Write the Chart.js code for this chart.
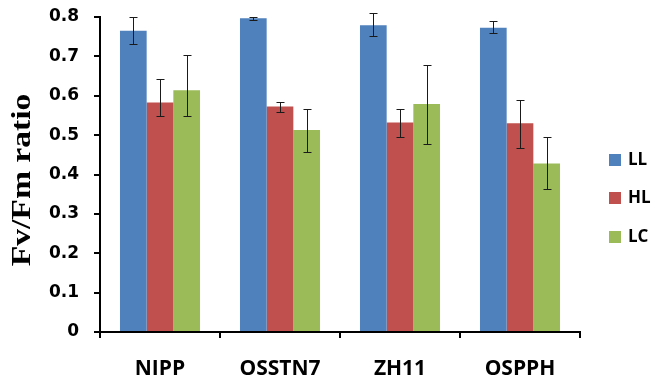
<!DOCTYPE html>
<html>
<head>
<meta charset="utf-8">
<script src="https://cdn.jsdelivr.net/npm/chart.js@4/dist/chart.umd.min.js"></script>
<style>
  html, body { margin: 0; padding: 0; background: #fff; }
  #wrap { width: 654px; height: 382px; }
</style>
</head>
<body>
<div id="wrap"><canvas id="mycanvas" width="654" height="382"></canvas></div>
<script>
var categories = ["NIPP", "OSSTN7", "ZH11", "OSPPH"];
var seriesNames = ["LL", "HL", "LC"];
var seriesColors = ["#4F81BD", "#C0504D", "#9BBB59"];

var LL = [0.765, 0.797, 0.779, 0.773];
var HL = [0.583, 0.573, 0.532, 0.530];
var LC = [0.614, 0.513, 0.579, 0.428];

// error bars (up / down from the bar top)
var LLup = [0.035, 0.004, 0.030, 0.018];
var LLdown = [0.034, 0.004, 0.028, 0.013];
var HLup = [0.059, 0.010, 0.034, 0.059];
var HLdown = [0.035, 0.013, 0.036, 0.062];
var LCup = [0.089, 0.054, 0.099, 0.068];
var LCdown = [0.066, 0.057, 0.102, 0.066];

var yTicks = [0, 0.1, 0.2, 0.3, 0.4, 0.5, 0.6, 0.7, 0.8];
var yTitle = "Fv/Fm ratio";

var values = [LL, HL, LC];
var ups = [LLup, HLup, LCup];
var downs = [LLdown, HLdown, LCdown];

var datasets = [];
for (var i = 0; i < seriesNames.length; i++) {
    datasets.push({
        label: seriesNames[i],
        data: values[i],
        backgroundColor: seriesColors[i],
        borderWidth: 0,
        categoryPercentage: 0.667,
        barPercentage: 1.0,
        errUp: ups[i],
        errDown: downs[i]
    });
}

var errorBars = {
    id: "errorBars",
    afterDatasetsDraw: function(chart) {
        var ctx = chart.ctx;
        var y = chart.scales.y;
        ctx.save();
        ctx.strokeStyle = "#1a1a1a";
        ctx.lineWidth = 1;
        chart.data.datasets.forEach(function(ds, di) {
            var meta = chart.getDatasetMeta(di);
            meta.data.forEach(function(bar, j) {
                var v = ds.data[j];
                var top = Math.round(y.getPixelForValue(v + ds.errUp[j])) + 0.5;
                var bot = Math.round(y.getPixelForValue(v - ds.errDown[j])) + 0.5;
                var x = Math.round(bar.x) + 0.5;
                ctx.beginPath();
                ctx.moveTo(x, top); ctx.lineTo(x, bot);
                ctx.moveTo(x - 4, top); ctx.lineTo(x + 4, top);
                ctx.moveTo(x - 4, bot); ctx.lineTo(x + 4, bot);
                ctx.stroke();
            });
        });
        ctx.restore();
    }
};

var sideTexts = {
    id: "sideTexts",
    afterDraw: function(chart) {
        var ctx = chart.ctx;
        ctx.save();
        // y axis title, a bit stretched like the original
        ctx.translate(23, 180);
        ctx.rotate(-Math.PI / 2);
        ctx.scale(1.2, 1);
        ctx.fillStyle = "#000";
        ctx.font = "bold 28px 'Liberation Serif'";
        ctx.textAlign = "center";
        ctx.textBaseline = "middle";
        ctx.fillText(yTitle, 0, 0);
        ctx.restore();

        // legend
        ctx.save();
        ctx.font = "bold 17px 'Open Sans'";
        ctx.textBaseline = "middle";
        ctx.textAlign = "left";
        var ys = [160, 198, 237];
        for (var k = 0; k < seriesNames.length; k++) {
            ctx.fillStyle = seriesColors[k];
            ctx.fillRect(609, ys[k] - 6, 12, 12);
            ctx.fillStyle = "#000";
            ctx.fillText(seriesNames[k], 628, ys[k]);
        }
        ctx.restore();
    }
};

var ctx = document.getElementById("mycanvas");

var BarGraph = new Chart(ctx, {
    type: "bar",
    data: {
        labels: categories,
        datasets: datasets
    },
    options: {
        responsive: false,
        animation: false,
        layout: { padding: { left: 0, right: 74, top: 17, bottom: 0 } },
        plugins: {
            legend: { display: false },
            tooltip: { enabled: false }
        },
        scales: {
            x: {
                afterFit: function(scale) {
                    scale.height = 50;
                    scale.paddingLeft = 0;
                    scale.paddingRight = 0;
                },
                grid: {
                    display: true,
                    offset: true,
                    drawOnChartArea: false,
                    drawTicks: true,
                    tickLength: 6,
                    color: "#000",
                    lineWidth: 2
                },
                border: { display: true, color: "#000", width: 2 },
                ticks: {
                    color: "#000",
                    padding: 18,
                    font: { family: "'Open Sans'", size: 21, weight: "bold" }
                }
            },
            y: {
                min: 0,
                max: 0.8,
                afterFit: function(scale) {
                    scale.width = 100;
                    scale.paddingTop = 0;
                    scale.paddingBottom = 0;
                },
                afterBuildTicks: function(scale) {
                    scale.ticks = yTicks.map(function(v) { return { value: v }; });
                },
                grid: {
                    display: true,
                    drawOnChartArea: false,
                    drawTicks: true,
                    tickLength: 6,
                    color: "#000",
                    lineWidth: 2
                },
                border: { display: true, color: "#000", width: 2 },
                ticks: {
                    color: "#000",
                    padding: 15,
                    font: { family: "'DejaVu Sans'", size: 17, weight: "bold" },
                    callback: function(v) { return String(Math.round(v * 10) / 10); }
                }
            }
        }
    },
    plugins: [errorBars, sideTexts]
});
</script>
</body>
</html>
